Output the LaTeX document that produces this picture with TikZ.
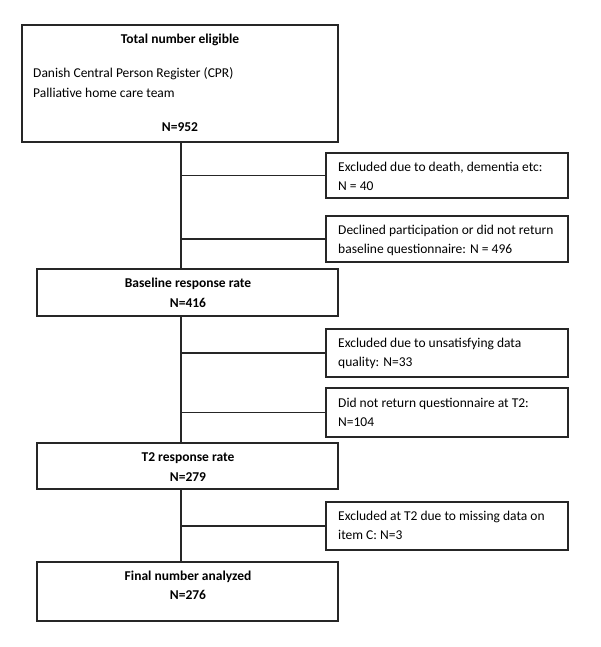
\documentclass[tikz,border=0pt]{standalone}
\usepackage{fontspec}
\setmainfont{Carlito}
\begin{document}
\begin{tikzpicture}[x=1pt,y=-1pt,
  box/.style={draw=black!85,line width=1.3pt,rectangle,inner sep=0pt},
  conn/.style={draw=black!85,line width=1.3pt},
  title/.style={font=\fontsize{13.5}{19}\selectfont\bfseries,inner sep=0pt,anchor=center},
  plain/.style={font=\fontsize{13.5}{19}\selectfont,inner sep=0pt,anchor=west},
  extext/.style={font=\fontsize{13.5}{19}\selectfont,inner sep=0pt,anchor=west,align=left}]
\useasboundingbox (0,0) rectangle (600,647);
\fill[white] (0,0) rectangle (600,647);
% boxes
\node[box,minimum width=316pt,minimum height=117pt] (top) at (180,83.5) {};
\node[box,minimum width=242pt,minimum height=45pt] (ex1) at (447,175.5) {};
\node[box,minimum width=242pt,minimum height=46pt] (ex2) at (447,239) {};
\node[box,minimum width=301pt,minimum height=47pt] (base) at (187.5,292.5) {};
\node[box,minimum width=242pt,minimum height=48pt] (ex3) at (447,353) {};
\node[box,minimum width=242pt,minimum height=49pt] (ex4) at (447,412.5) {};
\node[box,minimum width=301pt,minimum height=46pt] (t2) at (187.5,466) {};
\node[box,minimum width=242pt,minimum height=48pt] (ex5) at (447,526) {};
\node[box,minimum width=301pt,minimum height=59pt] (final) at (187.5,591.5) {};
% texts
\node[title] (toptitle) at (180,40) {Total number eligible};
\node[plain] (topl1) at (33,74) {Danish Central Person Register (CPR)};
\node[plain] (topl2) at (33,93) {Palliative home care team};
\node[title] (topn) at (180,127) {N=952};
\node[title] (basetitle) at (188,284) {Baseline response rate};
\node[title] (basen) at (188,303) {N=416};
\node[title] (t2title) at (188,458) {T2 response rate};
\node[title] (t2n) at (188,477) {N=279};
\node[title] (fintitle) at (188,577) {Final number analyzed};
\node[title] (finn) at (188,595) {N=276};
\node[extext] (ex1t) at (338,176.5) {Excluded due to death, dementia etc:\\N = 40};
\node[extext] (ex2t) at (338,240) {Declined participation or did not return\\baseline questionnaire: N = 496};
\node[extext] (ex3t) at (338,353.5) {Excluded due to unsatisfying data\\quality: N=33};
\node[extext] (ex4t) at (338,412) {Did not return questionnaire at T2:\\N=104};
\node[extext] (ex5t) at (338,525) {Excluded at T2 due to missing data on\\item C: N=3};
% spine
\coordinate (spine) at (181,0);
\draw[conn] (top.south -| spine) -- (base.north -| spine);
\draw[conn] (base.south -| spine) -- (t2.north -| spine);
\draw[conn] (t2.south -| spine) -- (final.north -| spine);
\draw[conn] (ex1.west -| spine) -- (ex1.west);
\draw[conn] (ex2.west -| spine) -- (ex2.west);
\draw[conn] (ex3.west -| spine) -- (ex3.west);
\draw[conn] (ex4.west -| spine) -- (ex4.west);
\draw[conn] (ex5.west -| spine) -- (ex5.west);
\end{tikzpicture}
\end{document}
